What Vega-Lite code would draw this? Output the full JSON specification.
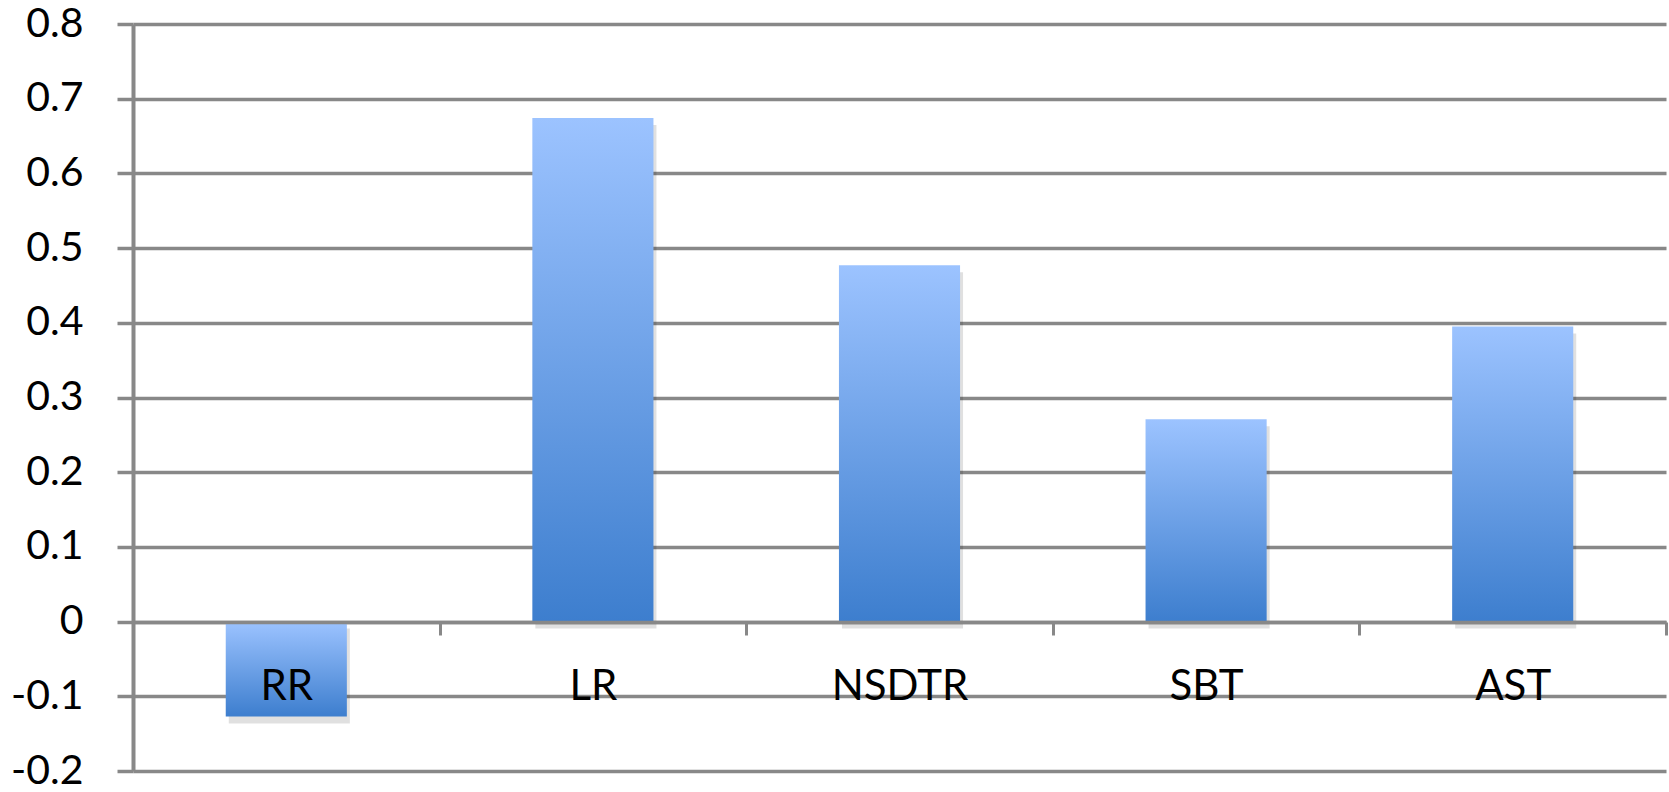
{
  "$schema": "https://vega.github.io/schema/vega-lite/v6.json",
  "width": 1533,
  "height": 747,
  "autosize": "none",
  "padding": {"left": 133, "top": 24, "right": 3, "bottom": 21},
  "background": "white",
  "data": {"values": [
    {"method": "RR", "value": -0.127},
    {"method": "LR", "value": 0.674},
    {"method": "NSDTR", "value": 0.477},
    {"method": "SBT", "value": 0.271},
    {"method": "AST", "value": 0.395}
  ]},
  "encoding": {
    "x": {"field": "method", "type": "nominal", "sort": null,
      "scale": {"paddingInner": 0, "paddingOuter": 0},
      "axis": {"title": null, "orient": "bottom", "offset": -149, "zindex": 1, "domain": true, "domainColor": "#888888", "domainWidth": 3.5,
        "ticks": true, "tickBand": "extent", "tickSize": 13, "tickColor": "#888888", "tickWidth": 3,
        "labelAngle": 0, "labelFont": "Lato", "labelFontSize": 42, "labelColor": "#000000",
        "labelBaseline": "alphabetic", "labelPadding": 64, "grid": false}},
    "y": {"field": "value", "type": "quantitative",
      "scale": {"domain": [-0.2, 0.8], "nice": false, "zero": false},
      "axis": {"title": null, "values": [-0.2, -0.1, 0, 0.1, 0.2, 0.3, 0.4, 0.5, 0.6, 0.7, 0.8],
        "labelExpr": "datum.value == 0 ? '0' : replace(format(datum.value, '.1f'), '\u2212', '-')",
        "grid": true, "gridColor": "#888888", "gridWidth": 3.5, "gridOpacity": 1,
        "domain": true, "domainColor": "#888888", "domainWidth": 4,
        "ticks": true, "tickSize": 16, "tickColor": "#888888", "tickWidth": 3.5,
        "labelFont": "Lato", "labelFontSize": 41, "labelColor": "#000000", "labelPadding": 34}}
  },
  "layer": [
    {"mark": {"type": "bar", "width": {"band": 0.395}, "color": "#000000", "opacity": 0.12, "xOffset": 3, "yOffset": 7}},
    {"mark": {"type": "bar", "width": {"band": 0.395}, "color": {"gradient": "linear", "x1": 0, "y1": 0, "x2": 0, "y2": 1,
      "stops": [{"offset": 0, "color": "#9CC3FF"}, {"offset": 1, "color": "#3D7ECE"}]}}}
  ],
  "config": {"view": {"stroke": null}}
}
